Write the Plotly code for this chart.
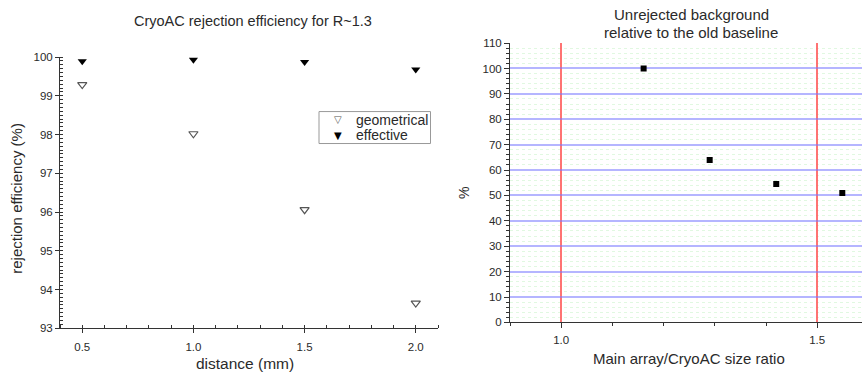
import plotly.graph_objects as go

# Left chart data
distance = [0.5, 1.0, 1.5, 2.0]
distance_labels = ["0.5", "1.0", "1.5", "2.0"]
geometrical = [99.29, 98.02, 96.06, 93.65]
effective = [99.89, 99.93, 99.87, 99.68]

# Right chart data
size_ratio = [1.161, 1.290, 1.420, 1.549]
unrejected = [100.0, 64.0, 54.5, 51.0]

W, H = 862, 381
FONT = "Liberation Sans, Arial, sans-serif"
TXT = "#2a2a2a"
AX = "#333333"

def px_x(p):
    return p / W

def px_y(p):
    return 1 - p / H

fig = go.Figure()

fig.add_trace(go.Scatter(
    x=distance, y=geometrical, mode="markers", name="geometrical",
    marker=dict(symbol="triangle-down-open", size=8, color="#555555", line=dict(width=1.2, color="#555555")),
    xaxis="x", yaxis="y", showlegend=False))
fig.add_trace(go.Scatter(
    x=distance, y=effective, mode="markers", name="effective",
    marker=dict(symbol="triangle-down", size=8, color="black"),
    xaxis="x", yaxis="y", showlegend=False))
fig.add_trace(go.Scatter(
    x=size_ratio, y=unrejected, mode="markers", name="unrejected",
    marker=dict(symbol="square", size=6, color="black"),
    xaxis="x2", yaxis="y2", showlegend=False))

tickfont = dict(family=FONT, size=11.5, color=TXT)

fig.update_layout(
    width=W, height=H,
    margin=dict(l=0, r=0, t=0, b=0),
    paper_bgcolor="white", plot_bgcolor="white",
    font=dict(family=FONT, color=TXT),
    showlegend=False,
    xaxis=dict(
        domain=[px_x(60), px_x(438)], anchor="y",
        range=[0.4, 2.1], tickvals=distance, ticktext=distance_labels,
        ticks="outside", ticklen=4, tickcolor=AX, tickwidth=1, ticklabelstandoff=4,
        minor=dict(dtick=0.1, tick0=0.4, ticks="inside", ticklen=3, tickcolor=AX, showgrid=False),
        showline=True, linecolor=AX, linewidth=1, showgrid=False, zeroline=False,
        tickfont=tickfont,
    ),
    yaxis=dict(
        domain=[px_y(332.7), px_y(52.7)], anchor="x",
        range=[93, 100], dtick=1, tick0=93,
        ticks="outside", ticklen=4, tickcolor=AX, tickwidth=1,
        minor=dict(dtick=0.1, ticks="inside", ticklen=3, tickcolor=AX, showgrid=False),
        showline=True, linecolor=AX, linewidth=1, showgrid=False, zeroline=False,
        tickfont=tickfont,
    ),
    xaxis2=dict(
        domain=[px_x(510), 1.0], anchor="y2",
        range=[0.9, 0.9 + (862 - 510) / 512.0], dtick=0.5, tick0=1.0,
        tickformat=".1f",
        ticks="outside", ticklen=5, tickcolor=AX, tickwidth=1, ticklabelstandoff=2,
        minor=dict(dtick=0.1, tick0=0.9, ticks="outside", ticklen=3, tickcolor=AX, showgrid=False),
        showline=True, linecolor=AX, linewidth=1,
        showgrid=True, gridcolor="rgba(255,90,90,0.85)", gridwidth=1.5, zeroline=False,
        tickfont=tickfont,
    ),
    yaxis2=dict(
        domain=[px_y(326.7), px_y(38.3)], anchor="x2",
        range=[0, 110], dtick=10, tick0=0,
        ticks="outside", ticklen=5, tickcolor=AX, tickwidth=1,
        minor=dict(dtick=2, ticks="outside", ticklen=3, tickcolor=AX,
                   showgrid=True, gridcolor="rgba(170,235,170,0.35)", griddash="dot", gridwidth=1),
        showline=True, linecolor=AX, linewidth=1,
        showgrid=True, gridcolor="rgba(120,120,255,0.55)", gridwidth=1.5, zeroline=False,
        tickfont=tickfont,
    ),
)

ann = [
    dict(text="CryoAC rejection efficiency for R~1.3", x=253, y=15.5, size=14.5),
    dict(text="distance (mm)", x=245, y=369, size=15.5),
    dict(text="Unrejected background", x=691, y=9, size=15),
    dict(text="relative to the old baseline", x=691, y=27, size=15),
    dict(text="Main array/CryoAC size ratio", x=689, y=364, size=15),
]
for a in ann:
    fig.add_annotation(text=a["text"], x=px_x(a["x"]), y=px_y(a["y"]), xref="paper", yref="paper",
                       xanchor="center", yanchor="middle", showarrow=False,
                       font=dict(family=FONT, size=a["size"], color=TXT))

fig.add_annotation(text="rejection efficiency (%)", x=px_x(17), y=px_y(199), xref="paper", yref="paper",
                   xanchor="center", yanchor="middle", showarrow=False, textangle=-90,
                   font=dict(family=FONT, size=15, color=TXT))
fig.add_annotation(text="%", x=px_x(464), y=px_y(193), xref="paper", yref="paper",
                   xanchor="center", yanchor="middle", showarrow=False, textangle=-90,
                   font=dict(family=FONT, size=14, color=TXT))

# Legend box (drawn manually to match compact Origin-style legend)
fig.add_shape(type="rect", xref="paper", yref="paper",
              x0=px_x(319), x1=px_x(430.5), y0=px_y(142), y1=px_y(109),
              line=dict(color="#999999", width=1), fillcolor="white", layer="above")
legend_items = [("▽", "#555555", "geometrical", 117.5), ("▼", "black", "effective", 133.5)]
for sym, col, label, yy in legend_items:
    fig.add_annotation(text=sym, x=px_x(338), y=px_y(yy), xref="paper", yref="paper",
                       xanchor="center", yanchor="middle", showarrow=False,
                       font=dict(family="DejaVu Sans", size=10, color=col))
    fig.add_annotation(text=label, x=px_x(354), y=px_y(yy), xref="paper", yref="paper",
                       xanchor="left", yanchor="middle", showarrow=False,
                       font=dict(family=FONT, size=14, color=TXT))

fig.write_html("out.html")
